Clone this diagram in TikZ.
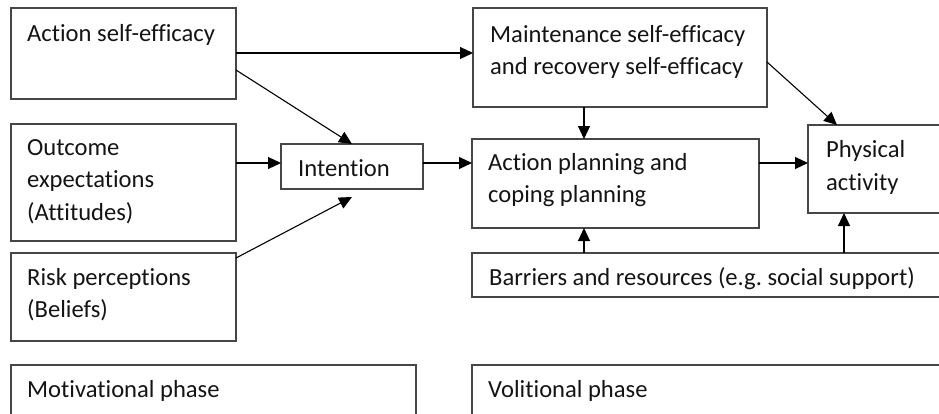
\documentclass[tikz,border=0pt]{standalone}
\usepackage{fontspec}
\setmainfont{Carlito}[Ligatures=NoCommon]
\usetikzlibrary{arrows.meta}
\frenchspacing
\definecolor{boxline}{RGB}{70,70,70}
\definecolor{txtcol}{RGB}{20,20,20}
\tikzset{
  box/.style={draw=boxline, line width=1.1pt, inner sep=0pt, outer sep=0pt, anchor=north west},
  lbl/.style={anchor=base west, inner sep=0pt, text=txtcol, font=\fontsize{24.6}{32}\selectfont},
  arr/.style={draw=black, line width=1.1pt, -{Triangle[length=13pt,width=12pt]}}
}
\begin{document}
\begin{tikzpicture}[x=1pt,y=-1pt]
\useasboundingbox (0,0) rectangle (939,413);
\clip (0,0) rectangle (939,413);
% boxes
\node[box, minimum width=225pt, minimum height=91pt] (ase) at (11,8) {};
\node[box, minimum width=225pt, minimum height=117pt] (oe) at (11,124) {};
\node[box, minimum width=225pt, minimum height=88pt] (rp) at (11,253) {};
\node[box, minimum width=405pt, minimum height=70pt] (mp) at (11,365) {};
\node[box, minimum width=142pt, minimum height=45pt] (int) at (281,144) {};
\node[box, minimum width=294pt, minimum height=99pt] (mse) at (473,8) {};
\node[box, minimum width=287pt, minimum height=89pt] (ap) at (472,139) {};
\node[box, minimum width=160pt, minimum height=88pt] (pa) at (808,125) {};
\node[box, minimum width=490pt, minimum height=44pt] (br) at (472,253) {};
\node[box, minimum width=490pt, minimum height=70pt] (vp) at (472,365) {};
% texts
\node[lbl] (t1) at (27,41) {Action self-efficacy};
\node[lbl] (t2a) at (27,155) {Outcome};
\node[lbl] (t2b) at (27,187) {expectations};
\node[lbl] (t2c) at (27,220) {(Attitudes)};
\node[lbl] (t3a) at (27,285) {Risk perceptions};
\node[lbl] (t3b) at (27,317) {(Beliefs)};
\node[lbl] (t4) at (27,397) {Motivational phase};
\node[lbl] (t5) at (298,176) {Intention};
\node[lbl] (t6a) at (490,42) {Maintenance self-efficacy};
\node[lbl] (t6b) at (490,74) {and recovery self-efficacy};
\node[lbl] (t7a) at (488,170) {Action planning and};
\node[lbl] (t7b) at (488,202) {coping planning};
\node[lbl] (t8a) at (826,157) {Physical};
\node[lbl] (t8b) at (826,190) {activity};
\node[lbl] (t9) at (489,285) {Barriers and resources (e.g. social support)};
\node[lbl] (t10) at (488,397) {Volitional phase};
% connectors
\draw[arr] ([yshift=-45pt]ase.north east) -- ([yshift=-45pt]mse.north west);
\draw[arr] ([yshift=-62pt]ase.north east) -- (int.north);
\draw[arr] ([yshift=3.5pt]int.west -| oe.east) -- ([yshift=3.5pt]int.west);
\draw[arr] ([yshift=-5pt]rp.north east) -- ([yshift=-8pt]int.south);
\draw[arr] ([yshift=3.5pt]int.east) -- ([yshift=3.5pt]int.east -| ap.west);
\draw[arr] ([xshift=-36pt]mse.south) -- ([xshift=-36pt]mse.south |- ap.north);
\draw[arr] ([yshift=-54pt]mse.north east) -- ([xshift=29pt]pa.north west);
\draw[arr] ([yshift=-24pt]ap.north east) -- ([yshift=-24pt]ap.north east -| pa.west);
\draw[arr] ([xshift=112pt]br.north west) -- ([xshift=112pt]br.north west |- ap.south);
\draw[arr] ([xshift=372pt]br.north west) -- ([xshift=372pt]br.north west |- pa.south);
\end{tikzpicture}
\end{document}
